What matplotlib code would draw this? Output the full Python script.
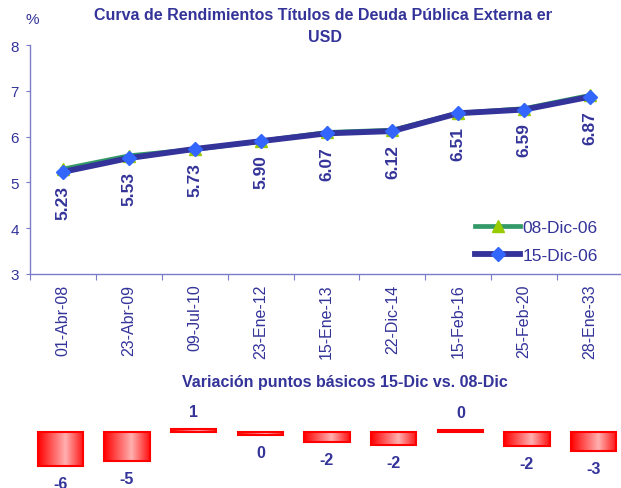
import numpy as np
import matplotlib
matplotlib.use("Agg")
import matplotlib.pyplot as plt
from matplotlib.colors import LinearSegmentedColormap
from matplotlib.transforms import Bbox

plt.rcParams["font.family"] = ["Liberation Sans", "DejaVu Sans"]

# --- data ---
fechas = ["01-Abr-08", "23-Abr-09", "09-Jul-10", "23-Ene-12", "15-Ene-13",
          "22-Dic-14", "15-Feb-16", "25-Feb-20", "28-Ene-33"]
rend_08dic = [5.29, 5.58, 5.72, 5.90, 6.09, 6.14, 6.51, 6.61, 6.90]
rend_15dic = [5.23, 5.53, 5.73, 5.90, 6.07, 6.12, 6.51, 6.59, 6.87]
variacion_pb = [-6.0, -5.2, 0.6, -0.4, -1.7, -2.2, 0.45, -2.5, -3.4]
etiquetas_pb = ["-6", "-5", "1", "0", "-2", "-2", "0", "-2", "-3"]

W, H = 621, 489
NAVY = "#333399"
AXIS = "#7B7BC8"

fig = plt.figure(figsize=(W / 100, H / 100), dpi=100)


def px_axes(left, top, right, bottom):
    return fig.add_axes([left / W, 1 - bottom / H, (right - left) / W, (bottom - top) / H])


# --- yield curve ---
ax = px_axes(30, 46, 623, 275)
x = np.arange(len(fechas))
ax.plot(x, rend_08dic, color="#339966", lw=3.4, marker="^", ms=8.5,
        mfc="#99CC00", mec="#99CC00", label="08-Dic-06", zorder=3)
ax.plot(x, rend_15dic, color=NAVY, lw=4.2, marker="D", ms=7.5,
        mfc="#3366FF", mec="#3366FF", label="15-Dic-06", zorder=4)

for xi, v in zip(x, rend_15dic):
    ax.annotate(f"{v:.2f}", (xi, v), xytext=(0, -13), textcoords="offset pixels",
                rotation=90, ha="center", va="top", fontsize=12.5,
                fontweight="bold", color=NAVY)

ax.set_xlim(-0.5, len(fechas) - 0.5)
ax.set_ylim(3, 8)
ax.set_yticks(range(3, 9))
ax.set_xticks(np.arange(len(fechas) + 1) - 0.5)
ax.set_xticklabels([])
ax.set_xticks(x, fechas, minor=True, rotation=90)
ax.tick_params(axis="x", which="major", length=4, color=AXIS, direction="out")
ax.tick_params(axis="x", which="minor", length=0, pad=7, labelsize=11.5, labelcolor=NAVY)
ax.tick_params(axis="y", length=3, color=AXIS, pad=5, labelsize=11, labelcolor=NAVY)
for s in ("top", "right"):
    ax.spines[s].set_visible(False)
for s in ("left", "bottom"):
    ax.spines[s].set_color(AXIS)
    ax.spines[s].set_linewidth(1.0)

ax.legend(loc="upper left", bbox_to_anchor=(475 / W, 1 - 221 / H),
          bbox_transform=fig.transFigure, frameon=False, borderpad=0,
          borderaxespad=0, handlelength=2.6, handletextpad=0.12,
          labelspacing=0.75, fontsize=12.5, labelcolor=NAVY)

fig.text(32 / W, 1 - 20 / H, "%", ha="center", va="center", fontsize=11, color=NAVY)
t = fig.text(325 / W, 1 - 15 / H,
             "Curva de Rendimientos Títulos de Deuda Pública Externa en",
             ha="center", va="center", fontsize=11.5, fontweight="bold", color=NAVY)
t.set_clip_box(Bbox([[0, 0], [552, H]]))
t.set_clip_on(True)
fig.text(325 / W, 1 - 37 / H, "USD", ha="center", va="center",
         fontsize=11.5, fontweight="bold", color=NAVY)

# --- variation bars ---
bx = px_axes(27, 400, 627, 489)
bx.axis("off")
xb = np.arange(len(variacion_pb))
bars = bx.bar(xb, variacion_pb, width=0.68, facecolor="none",
              edgecolor="#FF0000", lw=1.5, zorder=3)
grad_cmap = LinearSegmentedColormap.from_list(
    "rojo", [(0, "#FF0000"), (0.6, "#FFB0B0"), (1, "#FF1010")])
grad = np.linspace(0, 1, 256).reshape(1, -1)
for b in bars:
    x0, y0 = b.get_x(), b.get_y()
    x1, y1 = x0 + b.get_width(), y0 + b.get_height()
    im = bx.imshow(grad, cmap=grad_cmap, aspect="auto",
                   extent=(x0, x1, min(y0, y1), max(y0, y1)), zorder=2)
    im.set_clip_path(b)

for xi, v, lab in zip(xb, variacion_pb, etiquetas_pb):
    off, va = (10, "bottom") if v >= 0 else (-10, "top")
    bx.annotate(lab, (xi, v), xytext=(0, off), textcoords="offset pixels",
                ha="center", va=va, fontsize=11.5, fontweight="bold", color=NAVY)

bx.set_xlim(-0.5, len(variacion_pb) - 0.5)
bx.set_ylim(-9.95, 5.95)

fig.text(345 / W, 1 - 383 / H, "Variación puntos básicos 15-Dic vs. 08-Dic",
         ha="center", va="center", fontsize=11.5, fontweight="bold", color=NAVY)

fig.savefig("out.png", dpi=100)
